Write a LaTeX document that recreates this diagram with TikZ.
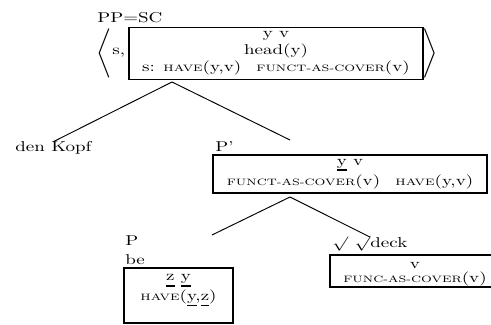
\documentclass[tikz,border=0pt]{standalone}
\usepackage{fontspec}
\usepackage{graphicx}
\usetikzlibrary{positioning}
\newcommand{\pred}[1]{{\fontsize{6.5}{8}\selectfont #1}}
\newlength{\ubarwd}
\newcommand{\ubar}[1]{\settowidth{\ubarwd}{#1}\rlap{\rule[-4pt]{\ubarwd}{1.3pt}}#1}

\begin{document}
\begin{tikzpicture}[
    x=0.526pt, y=-0.7013pt, yscale=0.75, transform shape,
    every node/.style={inner sep=0pt},
    drs/.style={draw, line width=1pt, align=center},
    lbl/.style={anchor=base west},
    branch/.style={line width=0.5pt}
  ]
  \path[use as bounding box, clip] (0,0) rectangle (491,325);

  % root: PP=SC
  \node[lbl] (ppsc) at (97,23) {PP=SC};
  \node (langl) at (104,53) {\scalebox{1}[1.15]{$\Bigg\langle$}};
  \node[lbl] (scomma) at (112,55) {s,};
  \node[drs, minimum width=154.6pt, minimum height=36.5pt] (ppbox) at (276,53.5)
        {y v\\head(y)\\s: \pred{HAVE}(y,v)\hspace{8pt}\pred{FUNCT-AS-COVER}(v)};
  \node (rangl) at (430,53) {\scalebox{1}[1.15]{$\Bigg\rangle$}};

  % left daughter
  \node[lbl] (kopf) at (15,152) {den Kopf};

  % P'
  \node[lbl] (pbar) at (215,152) {P'};
  \node[drs, minimum width=144.1pt, minimum height=26.6pt] (pbarbox) at (350,174)
        {\ubar{y} v\\[2pt]\pred{FUNCT-AS-COVER}(v)\hspace{8pt}\pred{HAVE}(y,v)};

  % P be
  \node[lbl] (p) at (125,246) {P};
  \node[lbl] (be) at (125,265) {be};
  \node[drs, minimum width=57.3pt, minimum height=38.6pt] (pbox) at (178.5,295.5)
        {\ubar{z} \ubar{y}\\[2pt]\pred{HAVE}(\ubar{y},\ubar{z})\rule[-10.9pt]{0pt}{1pt}};

  % root deck
  \node[lbl] (deck) at (332,248) {$\surd$ $\surd$deck};
  \node[drs, minimum width=89.4pt, minimum height=22.4pt,
        font=\fontsize{10}{10}\selectfont] (deckbox) at (415,271)
        {\rule{0pt}{8.5pt}v\\\pred{FUNC-AS-COVER}(v)};

  % tree lines
  \coordinate (pptop) at (172,82);
  \coordinate (ppright) at (290,140);
  \coordinate (pbartop) at (290,197);
  \coordinate (pleft) at (212,235);
  \draw[branch] (pptop) -- (kopf.north);
  \draw[branch] (pptop) -- (ppright);
  \draw[branch] (pbartop) -- (pleft);
  \draw[branch] (pbartop) -- (deck.north);
\end{tikzpicture}
\end{document}
